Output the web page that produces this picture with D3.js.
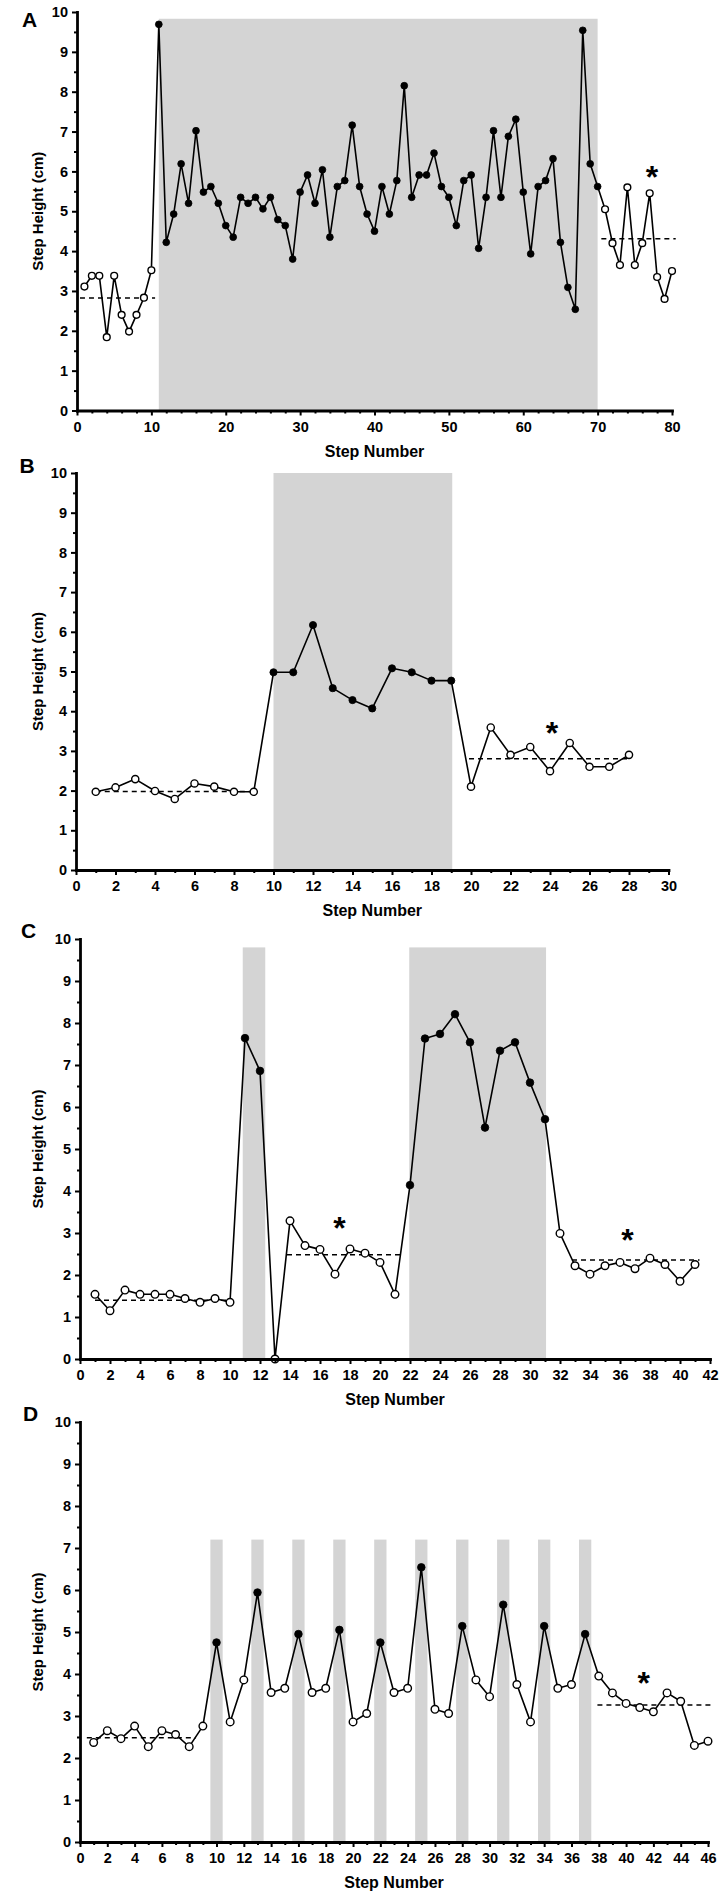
<!DOCTYPE html>
<html>
<head>
<meta charset="utf-8">
<script src="https://cdn.jsdelivr.net/npm/d3@7"></script>
<style>
  body { margin: 0; background: #fff; }
  text { font-family: "Liberation Sans", Arial, sans-serif; }
</style>
</head>
<body>
<svg id="chart"></svg>
<script>
// step heights (cm), first value is step 1
const heightA = [3.11,3.38,3.38,1.84,3.38,2.40,1.98,2.40,2.83,3.52,
  9.69,4.22,4.93,6.19,5.20,7.02,5.48,5.62,5.20,4.64,
  4.35,5.35,5.20,5.35,5.06,5.35,4.79,4.64,3.80,5.48,
  5.91,5.20,6.04,4.35,5.62,5.77,7.16,5.62,4.93,4.50,
  5.62,4.93,5.77,8.15,5.35,5.91,5.91,6.46,5.62,5.35,
  4.64,5.77,5.91,4.07,5.35,7.02,5.35,6.88,7.31,5.48,
  3.93,5.62,5.77,6.32,4.22,3.09,2.54,9.54,6.19,5.62,
  5.05,4.20,3.65,5.60,3.65,4.20,5.45,3.35,2.80,3.50];
const heightB = [1.97,2.08,2.29,1.99,1.79,2.18,2.10,1.97,1.97,
  4.98,4.98,6.17,4.58,4.28,4.07,5.08,4.98,4.77,4.77,
  2.10,3.59,2.90,3.10,2.49,3.20,2.60,2.60,2.90];
const heightC = [1.54,1.15,1.64,1.54,1.54,1.54,1.44,1.35,1.44,1.35,
  7.64,6.86,0.00,
  3.29,2.70,2.61,2.02,2.62,2.52,2.30,1.54,
  4.14,7.63,7.74,8.21,7.54,5.51,7.34,7.54,6.58,5.71,
  2.99,2.22,2.02,2.22,2.30,2.15,2.40,2.25,1.85,2.25];
const heightD = [2.37,2.65,2.46,2.76,2.27,2.65,2.56,2.27,2.76,
  4.75,2.86,3.86,5.94,3.56,3.66,4.95,3.56,3.66,5.05,2.86,
  3.06,4.75,3.56,3.66,6.54,3.16,3.06,5.14,3.86,3.46,
  5.65,3.75,2.86,5.14,3.66,3.75,4.95,
  3.95,3.55,3.30,3.20,3.10,3.55,3.35,2.30,2.40];

// shaded stimulation windows [from step, to step]
const shadeA = [[11, 70]];
const shadeB = [[10, 19.05]];
const shadeC = [[10.85, 12.35], [21.95, 31.07]];
const shadeD = [[9.55,10.45],[12.55,13.45],[15.55,16.45],[18.55,19.45],[21.55,22.45],
  [24.55,25.45],[27.55,28.45],[30.55,31.45],[33.55,34.45],[36.55,37.45]];
const shadeTop = [9.83, 10, 9.8, 7.2];

// dashed mean lines [from step, to step, height]
const meanA = [[0.4, 10.5, 2.82], [70.5, 80.5, 4.31]];
const meanB = [[1, 9, 1.98], [19.9, 28.1, 2.80]];
const meanC = [[1, 10, 1.40], [13.8, 21.4, 2.48], [32.8, 41.3, 2.36]];
const meanD = [[0.5, 8.5, 2.48], [37.9, 46.3, 3.26]];

// asterisks [step, height]
const starA = [[77.3, 6.05]];
const starB = [[24.1, 3.63]];
const starC = [[17.3, 3.29], [36.5, 3.0]];
const starD = [[41.3, 3.95]];

const xMaxes = [80, 30, 42, 46];
const yTicks = [0,1,2,3,4,5,6,7,8,9,10];

const width = 723, height = 1899;
const svg = d3.select("#chart").attr("width", width).attr("height", height);
svg.append("rect").attr("width", width).attr("height", height).attr("fill", "#fff");

const panels = [
  { letter: "A", heights: heightA, shade: shadeA, top: shadeTop[0], means: meanA, stars: starA, xMax: xMaxes[0],
    x0: 77, x1: 672, yTop: 12, yBot: 410.5, major: 10, minor: 2, lx: 29.5, ly: 27, r: 3.4 },
  { letter: "B", heights: heightB, shade: shadeB, top: shadeTop[1], means: meanB, stars: starB, xMax: xMaxes[1],
    x0: 76, x1: 668.5, yTop: 473, yBot: 870, major: 2, minor: 1, lx: 27, ly: 473, r: 3.6 },
  { letter: "C", heights: heightC, shade: shadeC, top: shadeTop[2], means: meanC, stars: starC, xMax: xMaxes[2],
    x0: 80, x1: 710, yTop: 939, yBot: 1359, major: 2, minor: 1, lx: 28.5, ly: 938, r: 3.8 },
  { letter: "D", heights: heightD, shade: shadeD, top: shadeTop[3], means: meanD, stars: starD, xMax: xMaxes[3],
    x0: 80, x1: 708, yTop: 1422, yBot: 1842, major: 2, minor: 1, lx: 30.5, ly: 1421, r: 3.8 }
];

panels.forEach(drawPanel);

function drawPanel(p) {
  const x = d3.scaleLinear().domain([0, p.xMax]).range([p.x0, p.x1]);
  const y = d3.scaleLinear().domain([0, 10]).range([p.yBot, p.yTop]);
  const g = svg.append("g");

  // grey stimulation blocks
  g.selectAll("rect.shade").data(p.shade).join("rect")
    .attr("class", "shade")
    .attr("x", d => x(d[0]))
    .attr("width", d => x(d[1]) - x(d[0]))
    .attr("y", y(p.top))
    .attr("height", y(0) - y(p.top))
    .attr("fill", "#d4d4d4");

  // dashed means
  g.selectAll("line.mean").data(p.means).join("line")
    .attr("class", "mean")
    .attr("x1", d => x(d[0])).attr("x2", d => x(d[1]))
    .attr("y1", d => y(d[2])).attr("y2", d => y(d[2]))
    .attr("stroke", "#000").attr("stroke-width", 1.5)
    .attr("stroke-dasharray", "5,4");

  const pts = p.heights.map((v, i) => {
    const step = i + 1;
    return { step, v, filled: p.shade.some(s => step >= s[0] && step <= s[1]) };
  });

  const line = d3.line().x(d => x(d.step)).y(d => y(d.v));
  g.append("path").datum(pts)
    .attr("d", line)
    .attr("fill", "none")
    .attr("stroke", "#000")
    .attr("stroke-width", 1.6)
    .attr("stroke-linejoin", "round");

  g.selectAll("circle").data(pts).join("circle")
    .attr("cx", d => x(d.step))
    .attr("cy", d => y(d.v))
    .attr("r", p.r)
    .attr("fill", d => d.filled ? "#000" : "#fff")
    .attr("stroke", "#000")
    .attr("stroke-width", d => d.filled ? 0.8 : 1.4);

  // axes
  const yAxis = g.append("g").attr("transform", `translate(${p.x0},0)`)
    .call(d3.axisLeft(y).tickValues(yTicks).tickSize(5).tickPadding(4).tickSizeOuter(0));
  g.append("g").attr("transform", `translate(${p.x0},0)`)
    .call(d3.axisLeft(y).tickValues(d3.range(0.5, 10, 1)).tickSize(3).tickFormat(""))
    .call(a => a.select(".domain").remove());

  const xMajor = d3.range(0, p.xMax + 0.01, p.major);
  const xMinor = d3.range(p.minor, p.xMax, p.minor).filter(v => v % p.major !== 0);
  const xAxis = g.append("g").attr("transform", `translate(0,${p.yBot})`)
    .call(d3.axisBottom(x).tickValues(xMajor).tickSize(5).tickPadding(6).tickSizeOuter(0));
  g.append("g").attr("transform", `translate(0,${p.yBot})`)
    .call(d3.axisBottom(x).tickValues(xMinor).tickSize(3).tickFormat(""))
    .call(a => a.select(".domain").remove());

  g.selectAll(".domain").attr("stroke-width", 2.8).attr("stroke-linecap", "square");
  g.selectAll(".tick line").attr("stroke-width", 2);
  [yAxis, xAxis].forEach(a => a.selectAll(".tick text")
    .attr("font-family", "'Liberation Sans Narrow','DejaVu Sans Condensed',Arial,sans-serif")
    .attr("font-size", 14.5).attr("font-weight", "bold").attr("fill", "#000"));

  // asterisks
  g.selectAll("text.star").data(p.stars).join("text")
    .attr("class", "star")
    .attr("x", d => x(d[0]))
    .attr("y", d => y(d[1]) + 0.57 * 32)
    .attr("text-anchor", "middle")
    .attr("font-size", 32).attr("font-weight", "bold")
    .text("*");

  // titles
  g.append("text")
    .attr("x", (p.x0 + p.x1) / 2)
    .attr("y", p.yBot + 46)
    .attr("text-anchor", "middle")
    .attr("font-size", 16).attr("font-weight", "bold")
    .text("Step Number");
  g.append("text")
    .attr("transform", `translate(43,${y(5)}) rotate(-90)`)
    .attr("text-anchor", "middle")
    .attr("font-size", 15).attr("font-weight", "bold")
    .text("Step Height (cm)");
  g.append("text")
    .attr("x", p.lx).attr("y", p.ly)
    .attr("text-anchor", "middle")
    .attr("font-size", 21).attr("font-weight", "bold")
    .text(p.letter);
}
</script>
</body>
</html>
